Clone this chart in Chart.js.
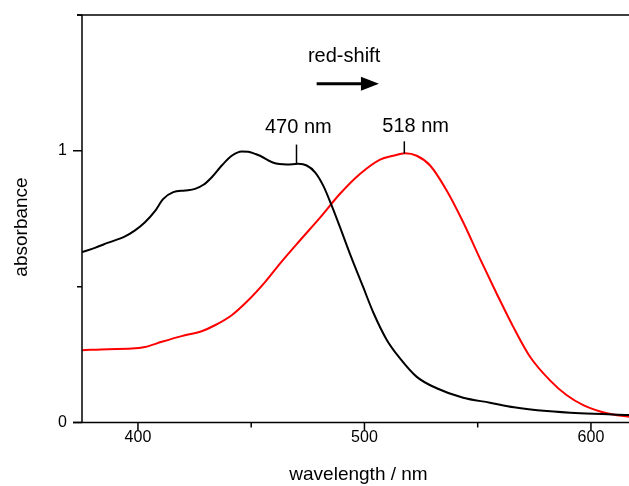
<!DOCTYPE html>
<html>
<head>
<meta charset="utf-8">
<script src="https://cdn.jsdelivr.net/npm/chart.js@4.4.1/dist/chart.umd.min.js"></script>
<style>
    html, body { margin: 0; padding: 0; background: #fff; }
</style>
</head>
<body>
<canvas id="chart" width="629" height="486"></canvas>
<script>
"use strict";

// black spectrum (before)
var blackWl  = [375.3, 381.0, 386.9, 394.3, 398.7, 403.1, 407.5, 411.2, 415.6, 420.8, 425.2, 428.9, 432.6, 437.0, 441.4, 445.8, 448.7, 451.7, 453.9, 459.8, 465.7, 470.8, 474.5, 478.2, 481.8, 485.5, 489.2, 493.6, 499.5, 503.9, 509.8, 515.7, 523.1, 531.9, 543.6, 555.4, 566.0, 580.5, 595.2, 616.8];
var blackAbs = [0.627, 0.643, 0.662, 0.685, 0.707, 0.737, 0.778, 0.823, 0.848, 0.854, 0.860, 0.875, 0.903, 0.946, 0.982, 0.998, 0.997, 0.989, 0.982, 0.956, 0.950, 0.952, 0.946, 0.921, 0.872, 0.799, 0.719, 0.621, 0.497, 0.405, 0.305, 0.236, 0.168, 0.126, 0.091, 0.073, 0.056, 0.042, 0.034, 0.028];

// red spectrum (after)
var redWl  = [375.2, 386.9, 397.2, 403.1, 410.5, 419.3, 428.1, 434.0, 441.4, 448.7, 456.1, 462.7, 471.5, 480.4, 489.2, 498.0, 506.9, 512.7, 517.9, 523.1, 529.0, 536.3, 543.6, 551.0, 558.4, 565.7, 573.1, 581.8, 589.2, 596.6, 607.0, 616.8];
var redAbs = [0.266, 0.270, 0.272, 0.278, 0.297, 0.318, 0.336, 0.358, 0.395, 0.450, 0.517, 0.585, 0.670, 0.754, 0.842, 0.915, 0.968, 0.982, 0.991, 0.982, 0.946, 0.854, 0.737, 0.603, 0.474, 0.352, 0.242, 0.156, 0.101, 0.064, 0.034, 0.021];

// axes
var xMin = 375.3, xMax = 616.8;
var yMin = 0, yMax = 1.5;
var xMajor = [400, 500, 600];
var xMinor = [450, 550];
var yMajor = [0, 1];
var yMinor = [0.5, 1.5];

// peak markers
var peakLabels = ["470 nm", "518 nm"];
var peakWl     = [470, 517.6];
var peakFrom   = [0.953, 0.990];
var peakTo     = [1.023, 1.035];
var labelWl    = [470.8, 522.6];
var labelAbs   = [1.085, 1.089];

var FONT = "'Liberation Sans', Arial, sans-serif";

function toPoints(xs, ys) {
    return xs.map(function(x, i) { return { x: x, y: ys[i] }; });
}

var framePlugin = {
    id: "frame",
    afterDraw: function(chart) {
        var ctx = chart.ctx, a = chart.chartArea;
        var xs = chart.scales.x, ys = chart.scales.y;
        ctx.save();
        ctx.strokeStyle = "#000";
        ctx.fillStyle = "#000";
        ctx.lineWidth = 1.5;
        ctx.lineCap = "butt";

        // frame lines
        ctx.beginPath();
        ctx.moveTo(a.left, a.top);
        ctx.lineTo(a.left, a.bottom);
        ctx.moveTo(a.left - 9, a.bottom);
        ctx.lineTo(a.right, a.bottom);
        ctx.moveTo(a.left - 5, a.top);
        ctx.lineTo(a.right, a.top);
        ctx.stroke();

        // ticks
        ctx.beginPath();
        xMajor.forEach(function(v) {
            var p = xs.getPixelForValue(v);
            ctx.moveTo(p, a.bottom); ctx.lineTo(p, a.bottom + 8);
        });
        xMinor.forEach(function(v) {
            var p = xs.getPixelForValue(v);
            ctx.moveTo(p, a.bottom); ctx.lineTo(p, a.bottom + 5);
        });
        yMajor.forEach(function(v) {
            var p = ys.getPixelForValue(v);
            ctx.moveTo(a.left, p); ctx.lineTo(a.left - 9, p);
        });
        yMinor.forEach(function(v) {
            var p = ys.getPixelForValue(v);
            ctx.moveTo(a.left, p); ctx.lineTo(a.left - 5, p);
        });
        ctx.stroke();

        // axis titles
        ctx.font = "19px " + FONT;
        ctx.textAlign = "center";
        ctx.textBaseline = "middle";
        ctx.fillText("wavelength / nm", (a.left + a.right) / 2 + 3, 475);
        ctx.save();
        ctx.translate(22, 227);
        ctx.rotate(-Math.PI / 2);
        ctx.fillText("absorbance", 0, 0);
        ctx.restore();

        // peak markers
        ctx.font = "20px " + FONT;
        peakLabels.forEach(function(t, i) {
            ctx.fillText(t, xs.getPixelForValue(labelWl[i]), ys.getPixelForValue(labelAbs[i]));
            var px = xs.getPixelForValue(peakWl[i]);
            ctx.beginPath();
            ctx.moveTo(px, ys.getPixelForValue(peakFrom[i]));
            ctx.lineTo(px, ys.getPixelForValue(peakTo[i]));
            ctx.stroke();
        });

        // red-shift arrow
        ctx.fillText("red-shift", xs.getPixelForValue(491), ys.getPixelForValue(1.347));
        var ay = ys.getPixelForValue(1.247);
        var ax0 = xs.getPixelForValue(478.9), ax1 = xs.getPixelForValue(506.4);
        ctx.lineWidth = 3;
        ctx.beginPath();
        ctx.moveTo(ax0, ay); ctx.lineTo(ax1 - 14, ay);
        ctx.stroke();
        ctx.beginPath();
        ctx.moveTo(ax1, ay);
        ctx.lineTo(ax1 - 18, ay - 7);
        ctx.lineTo(ax1 - 18, ay + 7);
        ctx.closePath();
        ctx.fill();

        ctx.restore();
    }
};

new Chart(document.getElementById("chart"), {
    type: "line",
    data: {
        datasets: [{
            data: toPoints(blackWl, blackAbs),
            borderColor: "#000",
            borderWidth: 2,
            pointRadius: 0,
            cubicInterpolationMode: "monotone",
            fill: false
        }, {
            data: toPoints(redWl, redAbs),
            borderColor: "#ff0000",
            borderWidth: 2,
            pointRadius: 0,
            cubicInterpolationMode: "monotone",
            fill: false
        }]
    },
    options: {
        responsive: false,
        animation: false,
        devicePixelRatio: 1,
        layout: { padding: { top: 15, right: 0, left: 0, bottom: 0 } },
        plugins: {
            legend: { display: false },
            tooltip: { enabled: false }
        },
        scales: {
            x: {
                type: "linear",
                min: xMin,
                max: xMax,
                grid: { display: false, drawTicks: false },
                border: { display: false },
                ticks: {
                    stepSize: 50,
                    includeBounds: false,
                    autoSkip: false,
                    maxRotation: 0,
                    padding: 5,
                    color: "#000",
                    font: { family: FONT, size: 16 },
                    callback: function(v) { return xMajor.indexOf(v) >= 0 ? String(v) : ""; }
                },
                afterFit: function(s) {
                    s.height = 63.5;
                    s.paddingLeft = 0;
                    s.paddingRight = 0;
                }
            },
            y: {
                min: yMin,
                max: yMax,
                grid: { display: false, drawTicks: false },
                border: { display: false },
                ticks: {
                    stepSize: 0.5,
                    autoSkip: false,
                    padding: 15,
                    color: "#000",
                    font: { family: FONT, size: 16 },
                    callback: function(v) { return yMajor.indexOf(v) >= 0 ? String(v) : ""; }
                },
                afterFit: function(s) {
                    s.width = 82;
                    s.paddingTop = 0;
                    s.paddingBottom = 0;
                }
            }
        }
    },
    plugins: [framePlugin]
});
</script>
</body>
</html>
